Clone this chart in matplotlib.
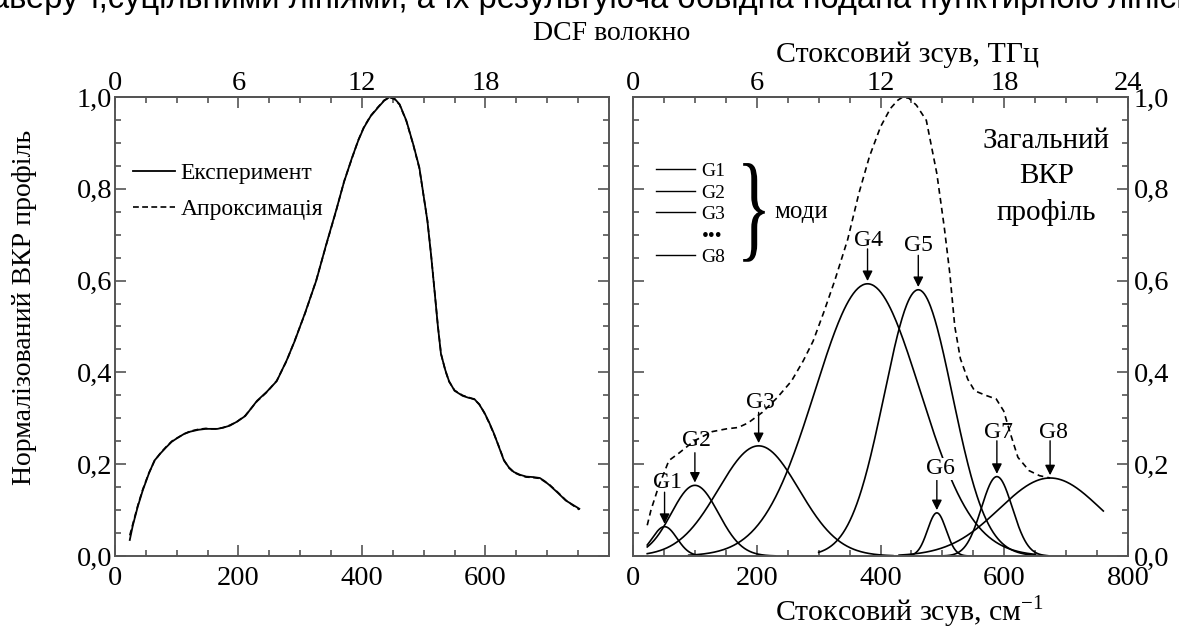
import numpy as np
import matplotlib.pyplot as plt
from matplotlib.ticker import MultipleLocator, FuncFormatter
from matplotlib.lines import Line2D
from matplotlib.textpath import TextPath
from matplotlib.patches import PathPatch
from matplotlib.font_manager import FontProperties
from matplotlib.transforms import Affine2D

plt.rcParams['font.family'] = ['Liberation Serif', 'DejaVu Serif']
plt.rcParams['mathtext.fontset'] = 'custom'
plt.rcParams['mathtext.rm'] = 'Liberation Serif'

# Ліва панель: експеримент і апроксимація (см-1, нормована інтенсивність)
exp_x = [24, 29, 37, 45, 55, 64, 74, 83, 92, 102, 112, 122, 135, 147, 157, 166, 176, 186,
         198, 211, 230, 246, 262, 278, 291, 308, 326, 342, 358, 371, 384, 394, 403, 414,
         426, 436, 445, 453, 461, 472, 483, 493, 506, 512, 518, 523, 528, 535, 541, 550,
         563, 572, 582, 590, 598, 606, 614, 622, 630, 638, 646, 656, 666, 677, 688, 696,
         704, 717, 730, 741, 752]
exp_y = [0.035, 0.067, 0.108, 0.143, 0.180, 0.208, 0.224, 0.237, 0.249, 0.258, 0.266, 0.271,
         0.275, 0.277, 0.277, 0.277, 0.280, 0.284, 0.293, 0.305, 0.338, 0.358, 0.381, 0.426,
         0.468, 0.530, 0.600, 0.678, 0.752, 0.815, 0.868, 0.905, 0.933, 0.958, 0.977, 0.992,
         1.000, 0.996, 0.984, 0.948, 0.897, 0.846, 0.730, 0.655, 0.571, 0.500, 0.440, 0.405,
         0.381, 0.360, 0.349, 0.345, 0.342, 0.330, 0.313, 0.291, 0.266, 0.237, 0.208, 0.193,
         0.183, 0.177, 0.173, 0.172, 0.170, 0.163, 0.154, 0.138, 0.121, 0.112, 0.103]
fit_y = [0.045, 0.070, 0.110, 0.145, 0.181, 0.207, 0.225, 0.238, 0.250, 0.258, 0.266, 0.272,
         0.276, 0.278, 0.277, 0.277, 0.280, 0.285, 0.293, 0.306, 0.337, 0.357, 0.382, 0.425,
         0.469, 0.529, 0.601, 0.677, 0.751, 0.816, 0.867, 0.906, 0.934, 0.959, 0.978, 0.993,
         0.999, 0.995, 0.983, 0.947, 0.896, 0.844, 0.731, 0.656, 0.572, 0.501, 0.441, 0.404,
         0.380, 0.361, 0.350, 0.346, 0.341, 0.331, 0.312, 0.290, 0.265, 0.238, 0.209, 0.192,
         0.182, 0.176, 0.172, 0.171, 0.169, 0.162, 0.155, 0.139, 0.122, 0.111, 0.101]

# Права панель: загальний профіль (обвідна)
env_x = [23, 29, 41, 58, 75, 99, 128, 151, 170, 186, 209, 233, 256, 275, 291, 308, 326, 347,
         365, 382, 400, 416, 428, 436, 446, 458, 474, 491, 503, 512, 520, 529, 541, 552, 570,
         587, 599, 610, 622, 640, 657, 674]
env_y = [0.067, 0.100, 0.150, 0.208, 0.225, 0.251, 0.271, 0.277, 0.280, 0.290, 0.313, 0.345,
         0.381, 0.425, 0.468, 0.530, 0.600, 0.690, 0.790, 0.870, 0.935, 0.975, 0.993, 1.000,
         0.997, 0.982, 0.949, 0.833, 0.716, 0.615, 0.500, 0.430, 0.385, 0.360, 0.350, 0.342,
         0.316, 0.266, 0.215, 0.186, 0.175, 0.170]

# Гаусові моди G1..G8: центр (см-1), висота, ширина (сигма), межі побудови
mode_names = ['G1', 'G2', 'G3', 'G4', 'G5', 'G6', 'G7', 'G8']
mode_center = [51, 100, 203, 379, 461, 491, 588, 674]
mode_height = [0.064, 0.154, 0.240, 0.593, 0.580, 0.094, 0.173, 0.170]
mode_sigma = [20, 38, 65, 85, 55, 15, 25, 82]
mode_start = [23, 23, 23, 90, 300, 440, 500, 430]
mode_end = [110, 230, 420, 650, 670, 545, 670, 760]
# підписи: положення тексту та початок стрілки
label_x = [55, 102, 206, 381, 462, 497, 590, 680]
label_y = [0.161, 0.251, 0.334, 0.687, 0.676, 0.190, 0.269, 0.269]
arrow_from = [0.139, 0.225, 0.313, 0.669, 0.655, 0.165, 0.251, 0.251]

thz_ticks_left = [0, 6, 12, 18]
thz_ticks_right = [0, 6, 12, 18, 24]
y_ticks = [0.0, 0.2, 0.4, 0.6, 0.8, 1.0]

def to_thz(x):
    return np.asarray(x) * 3 / 100.0

def to_cm(t):
    return np.asarray(t) * 100 / 3.0

comma = FuncFormatter(lambda v, p: f'{v:.1f}'.replace('.', ','))
spine_col = '#555555'
fs_tick = 20.5
fs_lab = 21.5

fig = plt.figure(figsize=(11.79, 6.28), dpi=100)
ax1 = fig.add_axes([0.0975, 0.1146, 0.419, 0.731])
ax2 = fig.add_axes([0.5369, 0.1146, 0.4199, 0.731])

for ax, thz in [(ax1, thz_ticks_left), (ax2, thz_ticks_right)]:
    ax.set_xlim(0, 800)
    ax.set_ylim(0, 1.0)
    ax.set_xticks([0, 200, 400, 600] if ax is ax1 else [0, 200, 400, 600, 800])
    ax.xaxis.set_minor_locator(MultipleLocator(50))
    ax.set_yticks(y_ticks)
    ax.yaxis.set_minor_locator(MultipleLocator(0.05))
    ax.yaxis.set_major_formatter(comma)
    ax.tick_params(which='both', direction='in', top=False, left=True, right=True,
                   labelsize=fs_tick, color=spine_col, width=1.2, pad=2)
    ax.tick_params(axis='x', pad=7)
    ax.tick_params(which='major', length=8)
    ax.tick_params(which='minor', length=4)
    for s in ax.spines.values():
        s.set_color(spine_col)
        s.set_linewidth(1.4)
    sec = ax.secondary_xaxis('top', functions=(to_thz, to_cm))
    sec.set_xticks(thz)
    sec.xaxis.set_minor_locator(MultipleLocator(1.5))
    sec.tick_params(which='both', direction='in', labelsize=fs_tick, color=spine_col,
                    width=1.2, pad=1)
    sec.tick_params(which='major', length=8)
    sec.tick_params(which='minor', length=4)
    sec.spines['top'].set_color(spine_col)
    sec.spines['top'].set_linewidth(1.4)

ax2.tick_params(axis='y', labelleft=False, labelright=True, pad=4)

# ліва панель
ax1.plot(exp_x, exp_y, color='k', lw=1.3, label='Експеримент')
ax1.plot(exp_x, fit_y, color='k', lw=1.2, ls=(0, (3.5, 2)), label='Апроксимація')
ax1.legend(loc='upper left', bbox_to_anchor=(-0.006, 0.904), frameon=False, fontsize=17,
           handlelength=1.75, handletextpad=0.25, labelspacing=0.62)

# права панель
ax2.plot(env_x, env_y, color='k', lw=1.2, ls=(0, (3.5, 2.5)))
for i in range(len(mode_names)):
    xs = np.linspace(mode_start[i], mode_end[i], 300)
    ys = mode_height[i] * np.exp(-(xs - mode_center[i]) ** 2 / (2 * mode_sigma[i] ** 2))
    ax2.plot(xs, ys, color='k', lw=1.2)

for i, name in enumerate(mode_names):
    tip = mode_height[i] + 0.006
    ax2.annotate('', xy=(mode_center[i], tip), xytext=(mode_center[i], arrow_from[i]),
                 arrowprops=dict(arrowstyle='-|>', color='k', lw=1.0, mutation_scale=15,
                                 shrinkA=0, shrinkB=0))
    bb = dict(facecolor='white', edgecolor='none', pad=0.5) if name == 'G6' else None
    ax2.text(label_x[i], label_y[i], name, ha='center', va='center', fontsize=17, bbox=bb)

handles = [Line2D([], [], color='k', lw=1.0) for _ in range(3)]
handles += [Line2D([], [], color='none'), Line2D([], [], color='k', lw=1.0)]
ax2.legend(handles, ['G1', 'G2', 'G3', '•••', 'G8'], loc='upper left',
           bbox_to_anchor=(0.011, 0.895), frameon=False, fontsize=14,
           handlelength=2.0, handletextpad=0.35, labelspacing=0.2)

# фігурна дужка
tp = TextPath((0, 0), '}', size=1, prop=FontProperties(family='Liberation Serif'))
ext = tp.get_extents()
bx0, bx1, by0, by1 = 178, 213, 0.641, 0.856
tr = (Affine2D().translate(-ext.x0, -ext.y0)
      .scale((bx1 - bx0) / ext.width, (by1 - by0) / ext.height)
      .translate(bx0, by0))
ax2.add_patch(PathPatch(tr.transform_path(tp), facecolor='k', edgecolor='none'))
ax2.text(229, 0.75, 'моди', ha='left', va='center', fontsize=18)

ax2.text(668, 0.826, 'Загальний\nВКР\nпрофіль', ha='center', va='center', fontsize=21,
         linespacing=1.45)

fig.text(25 / 1179, 0.511, 'Нормалізований ВКР профіль', rotation=90, ha='center',
         va='center', fontsize=20)
fig.text(909 / 1179, 1 - 612 / 628, 'Стоксовий зсув, см$^{-1}$', ha='center', va='center',
         fontsize=fs_lab)
fig.text(907 / 1179, 1 - 55 / 628, 'Стоксовий зсув, ТГц', ha='center', va='center',
         fontsize=fs_lab)
fig.text(612 / 1179, 1 - 33 / 628, 'DCF волокно', ha='center', va='center', fontsize=20)
fig.text(0.505, 1 - 8 / 628,
         'аверу т,суцільними лініями, а їх результуюча обвідна подана пунктирною лінією',
         ha='center', va='baseline', fontsize=23.5, family='Liberation Sans')

fig.savefig('out.png', dpi=100)
